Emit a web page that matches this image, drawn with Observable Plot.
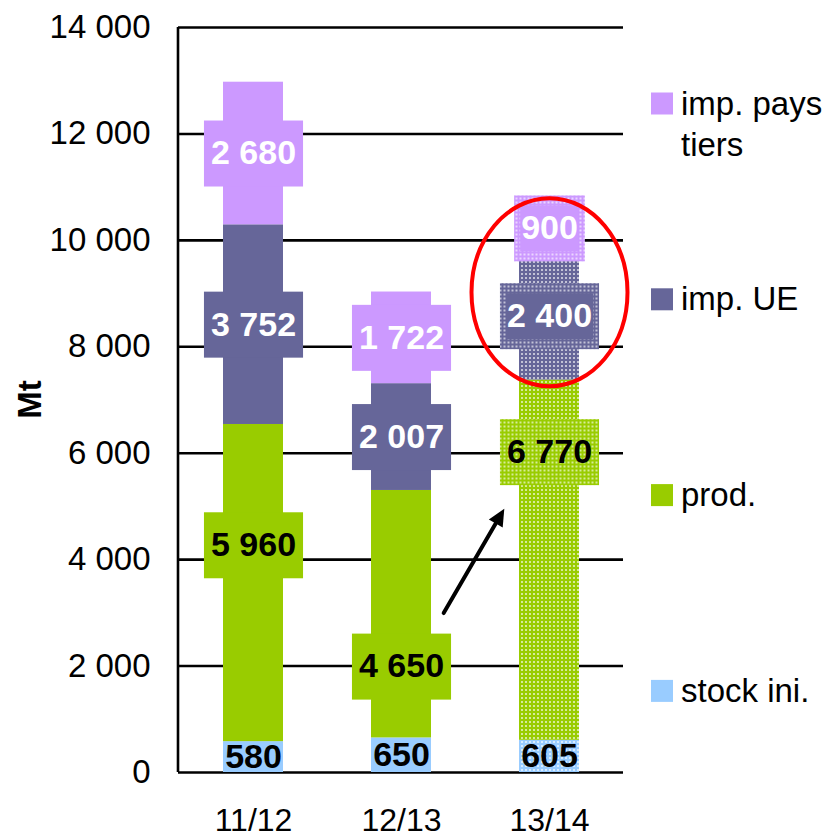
<!DOCTYPE html>
<html><head><meta charset="utf-8">
<script src="https://cdn.jsdelivr.net/npm/d3@7"></script>
<script src="https://cdn.jsdelivr.net/npm/@observablehq/plot@0.6"></script>
<style>
body{margin:0;background:#fff;}
#chart{position:relative;width:830px;height:839px;}
svg{font-family:"Liberation Sans", Arial, sans-serif;}
</style>
</head><body><div id="chart"></div>
<script>
// ---- data ----
const categories = ["11/12", "12/13", "13/14"];
const seriesNames = ["stock ini.", "prod.", "imp. UE", "imp. pays tiers"];
const stockIni = [580, 650, 605];
const prod = [5960, 4650, 6770];
const impUE = [3752, 2007, 2400];
const impPaysTiers = [2680, 1722, 900];
const prodLabelAt = [4270, 1990, 6020];   // where the prod. labels sit (Mt)
const yTicks = [0, 2000, 4000, 6000, 8000, 10000, 12000, 14000];
const seriesColors = ["#99CCFF", "#99CC00", "#666699", "#CC99FF"];
const labelInk = ["black", "black", "white", "white"];
const boxedSeries = ["prod.", "imp. UE", "imp. pays tiers"];
const forecastCategories = ["13/14"];
const highlightSeries = ["imp. UE", "imp. pays tiers"];
const arrowNote = [{from: "12/13", to: "13/14", y1: 1630, y2: 6420}];
const legendLines = [["imp. pays", "tiers"], ["imp. UE"], ["prod."], ["stock ini."]];

// ---- derived ----
const FONT = "'Liberation Sans', Arial, sans-serif";
const LABEL_SIZE = 34;
const valuesBySeries = [stockIni, prod, impUE, impPaysTiers];
const fr = d3.formatLocale({decimal: ",", thousands: "\u00a0", grouping: [3], currency: ["", ""]});
const fmt = fr.format(",");
const segments = [];
categories.forEach((cat, ci) => {
  let base = 0;
  valuesBySeries.forEach((vals, si) => {
    const v = vals[ci];
    const patterned = forecastCategories.includes(cat);
    segments.push({
      cat, series: seriesNames[si], si, value: v, y1: base, y2: base + v,
      labelY: seriesNames[si] === "prod." ? prodLabelAt[ci] : base + v / 2,
      fill: patterned ? `url(#dots-${si})` : seriesColors[si],
      solid: seriesColors[si], ink: labelInk[si], patterned,
      boxed: boxedSeries.includes(seriesNames[si]),
      core: patterned && highlightSeries.includes(seriesNames[si])
    });
    base += v;
  });
});
const focus = categories.filter(c => forecastCategories.includes(c)).map(cat => {
  const segs = segments.filter(s => s.cat === cat && highlightSeries.includes(s.series));
  return {cat, y: (d3.min(segs, s => s.y1) + d3.max(segs, s => s.y2)) / 2};
});

const measureCtx = document.createElement("canvas").getContext("2d");
measureCtx.font = `bold ${LABEL_SIZE}px ${FONT}`;
const svgNS = "http://www.w3.org/2000/svg";

const ellipseSymbol = {
  draw(context) {
    const rx = 78, ry = 94, k = 0.5523;
    context.moveTo(rx, 0);
    context.bezierCurveTo(rx, k * ry, k * rx, ry, 0, ry);
    context.bezierCurveTo(-k * rx, ry, -rx, k * ry, -rx, 0);
    context.bezierCurveTo(-rx, -k * ry, -k * rx, -ry, 0, -ry);
    context.bezierCurveTo(k * rx, -ry, rx, -k * ry, rx, 0);
    context.closePath();
  }
};

const HEAD_AT = 90, HEAD_LEN = 17, HEAD_HALF = 8;

const chart = Plot.plot({
  width: 830, height: 839,
  marginLeft: 178, marginRight: 207, marginTop: 27, marginBottom: 67,
  style: {fontFamily: FONT, fontSize: "33px", color: "black", background: "white", overflow: "visible"},
  x: {domain: categories, paddingInner: 0.595, paddingOuter: 0.2975, label: null},
  y: {domain: [0, 14000], label: null},
  color: {type: "identity"},
  marks: [
    Plot.gridY(yTicks, {stroke: "black", strokeOpacity: 1, strokeWidth: 2.6}),
    Plot.barY(segments, {x: "cat", y1: "y1", y2: "y2", fill: "fill"}),
    Plot.arrow(arrowNote, {
      x1: "from", x2: "to", y1: "y1", y2: "y2", stroke: "black", strokeWidth: 4,
      headLength: 0, insetStart: 84, insetEnd: HEAD_AT + HEAD_LEN - 3,
      render(index, scales, values, dimensions, context, next) {
        const g = next(index, scales, values, dimensions, context);
        for (const i of index) {
          const x1 = values.x1[i], y1 = values.y1[i], x2 = values.x2[i], y2 = values.y2[i];
          const L = Math.hypot(x2 - x1, y2 - y1), ux = (x2 - x1) / L, uy = (y2 - y1) / L;
          const tx = x2 - ux * HEAD_AT, ty = y2 - uy * HEAD_AT;
          const bx = tx - ux * HEAD_LEN, by = ty - uy * HEAD_LEN;
          const p = document.createElementNS(svgNS, "path");
          p.setAttribute("d", `M${tx},${ty}L${bx - uy * HEAD_HALF},${by + ux * HEAD_HALF}L${bx + uy * HEAD_HALF},${by - ux * HEAD_HALF}Z`);
          p.setAttribute("fill", "black"); p.setAttribute("stroke", "none");
          g.appendChild(p);
        }
        return g;
      }
    }),
    Plot.text(segments, {
      x: "cat", y: "labelY", text: d => fmt(d.value), fill: "ink",
      fontSize: LABEL_SIZE, fontWeight: "bold", fontFamily: FONT,
      render(index, scales, values, dimensions, context, next) {
        const g = next(index, scales, values, dimensions, context);
        const boxes = document.createElementNS(svgNS, "g");
        for (const i of index) {
          const d = segments[i];
          if (!d.boxed) continue;
          const w = measureCtx.measureText(fmt(d.value)).width + 14;
          const h = 66;
          const cx = values.x[i], cy = values.y[i];
          const r = document.createElementNS(svgNS, "rect");
          r.setAttribute("x", cx - w / 2); r.setAttribute("y", cy - h / 2);
          r.setAttribute("width", w); r.setAttribute("height", h);
          r.setAttribute("fill", d.fill);
          boxes.appendChild(r);
          if (d.core) {
            const c = document.createElementNS(svgNS, "rect");
            c.setAttribute("x", cx - w / 2 + 6); c.setAttribute("y", cy - h / 2 + 10);
            c.setAttribute("width", w - 12); c.setAttribute("height", h - 20);
            c.setAttribute("fill", d.solid);
            boxes.appendChild(c);
          }
        }
        g.insertBefore(boxes, g.firstChild);
        return g;
      }
    }),
    Plot.dot(focus, {x: "cat", y: "y", symbol: ellipseSymbol, r: 10, stroke: "red", strokeWidth: 4, fill: "none"}),
    Plot.axisY({ticks: yTicks, tickFormat: fmt, tickSize: 0, tickPadding: 28, fontSize: 33, label: null}),
    Plot.axisX({tickSize: 0, tickPadding: 36, fontSize: 32, label: null})
  ]
});

document.getElementById("chart").appendChild(chart);

// patterns for the forecast season
const svg = d3.select(chart);
const defs = svg.insert("defs", ":first-child");
seriesColors.forEach((col, si) => {
  const p = defs.append("pattern").attr("id", `dots-${si}`).attr("patternUnits", "userSpaceOnUse")
    .attr("width", 4).attr("height", 4);
  p.append("rect").attr("width", 4).attr("height", 4).attr("fill", col);
  p.append("rect").attr("x", 1).attr("y", 1).attr("width", 2).attr("height", 2).attr("fill", "white").attr("opacity", 0.6);
});

// left axis line
const xs = chart.scale("x"), ys = chart.scale("y");
svg.append("line").attr("x1", xs.range[0]).attr("x2", xs.range[0])
  .attr("y1", ys.range[1]).attr("y2", ys.range[0]).attr("stroke", "black").attr("stroke-width", 2.6);

// y axis title
svg.append("text").attr("transform", `translate(41,${(ys.range[0] + ys.range[1]) / 2}) rotate(-90)`)
  .attr("text-anchor", "middle").attr("font-weight", "bold").attr("font-size", 33).attr("fill", "black").text("Mt");

// legend
const legend = svg.append("g").attr("font-size", 33).attr("fill", "black").attr("text-anchor", "start");
const legendTop = 103.5, legendStep = 195.8;
legendLines.forEach((lines, k) => {
  const si = seriesNames.length - 1 - k;
  const cy = legendTop + k * legendStep;
  legend.append("rect").attr("x", 651).attr("y", cy - 11).attr("width", 22).attr("height", 22).attr("fill", seriesColors[si]);
  const t = legend.append("text").attr("x", 681).attr("y", cy + 11);
  lines.forEach((ln, j) => t.append("tspan").attr("x", 681).attr("dy", j ? 41 : 0).text(ln));
});
</script>
</body></html>
